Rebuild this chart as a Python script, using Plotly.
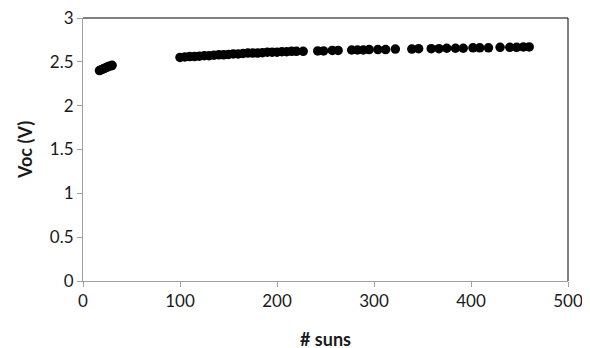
import plotly.graph_objects as go

# Low-concentration cluster
suns_low = [17, 19, 21, 23, 25, 27, 29, 30]
voc_low = [2.40, 2.41, 2.42, 2.43, 2.44, 2.45, 2.455, 2.46]

# High-concentration series
suns_high = [100, 105, 110, 115, 120, 125, 130, 135, 140, 145, 150, 155, 160, 165,
             170, 175, 180, 185, 190, 195, 200, 205, 210, 215, 220, 227,
             242, 248, 257, 263, 277, 283, 289, 295, 304, 312, 322, 339, 346,
             359, 367, 375, 384, 392, 402, 409, 418, 430, 440, 447, 454, 460]
voc_high = [2.55, 2.555, 2.56, 2.56, 2.565, 2.57, 2.57, 2.575, 2.58, 2.58, 2.585, 2.59, 2.59, 2.595,
            2.60, 2.60, 2.60, 2.605, 2.61, 2.61, 2.61, 2.615, 2.615, 2.62, 2.62, 2.62,
            2.625, 2.625, 2.63, 2.63, 2.635, 2.635, 2.635, 2.64, 2.64, 2.64, 2.645, 2.645, 2.65,
            2.65, 2.65, 2.655, 2.655, 2.655, 2.66, 2.66, 2.66, 2.665, 2.665, 2.665, 2.67, 2.67]

x_ticks = [0, 100, 200, 300, 400, 500]
y_ticks = [0, 0.5, 1, 1.5, 2, 2.5, 3]
y_tick_labels = ["0", "0.5", "1", "1.5", "2", "2.5", "3"]

fig = go.Figure()
marker = dict(color="black", size=9.5, symbol="circle")
fig.add_trace(go.Scatter(x=suns_low + suns_high, y=voc_low + voc_high, mode="markers",
                         marker=marker, showlegend=False, cliponaxis=False))

font_family = "Lato, Carlito, Open Sans, sans-serif"
fig.update_layout(
    width=590, height=348,
    margin=dict(l=75, r=30, t=10, b=75, autoexpand=False),
    paper_bgcolor="white", plot_bgcolor="white",
    font=dict(family=font_family, size=17, color="#1a1a1a"),
    xaxis=dict(range=[0, 500], tickvals=x_ticks, showgrid=False, zeroline=False,
               showline=True, linecolor="#a0a0a0", linewidth=1, ticks="outside",
               tickcolor="#a0a0a0", ticklen=5, mirror=False, automargin=False,
               ticklabeloverflow="allow",
               title=dict(text="<b># suns</b>", font=dict(size=18), standoff=22)),
    yaxis=dict(range=[0, 3], tickvals=y_ticks, ticktext=y_tick_labels, showgrid=False,
               zeroline=False, showline=True, linecolor="#a0a0a0", linewidth=1,
               ticks="outside", tickcolor="#a0a0a0", ticklen=5, automargin=False,
               ticklabeloverflow="allow",
               title=dict(text="<b>Voc (V)</b>", font=dict(size=18), standoff=12)),
    shapes=[
        dict(type="line", xref="paper", yref="paper", x0=0, x1=1, y0=1, y1=1,
             line=dict(color="black", width=1), layer="above"),
        dict(type="line", xref="paper", yref="paper", x0=1, x1=1, y0=0, y1=1,
             line=dict(color="black", width=1), layer="above"),
    ],
)

fig.write_html("out.html")
